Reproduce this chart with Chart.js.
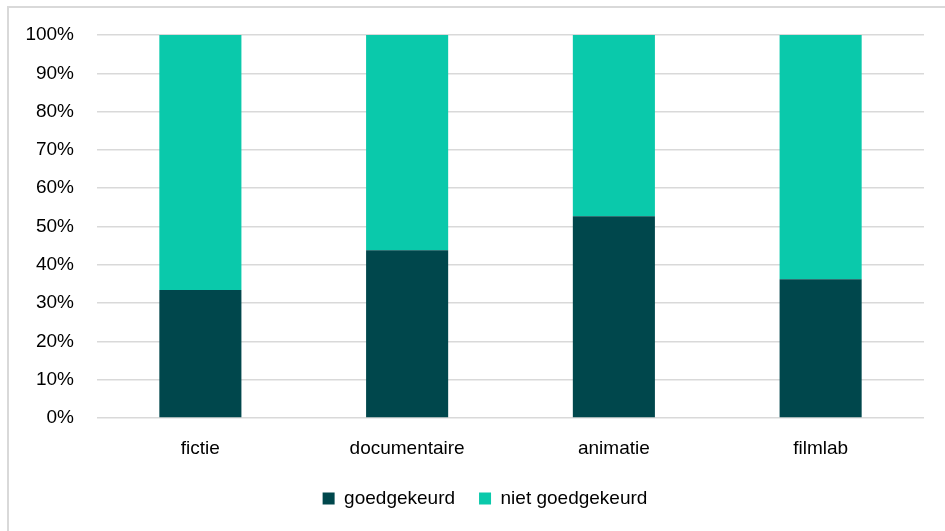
<!DOCTYPE html>
<html>
<head>
<meta charset="utf-8">
<script src="https://cdn.jsdelivr.net/npm/chart.js@4"></script>
<style>
  html, body { margin: 0; padding: 0; background: #fff; }
  #wrap { position: relative; width: 945px; height: 531px; }
  #frame { position: absolute; left: 7px; top: 6px; right: 0; bottom: 0;
           border-top: 2px solid #d9d9d9; border-left: 2px solid #d9d9d9; }
  canvas { position: absolute; left: 0; top: 0; }
</style>
</head>
<body>
<div id="wrap">
  <div id="frame"></div>
  <canvas id="c" width="945" height="531"></canvas>
</div>
<script>
/* categorieën en aandelen (%) */
const categories = ['fictie', 'documentaire', 'animatie', 'filmlab'];
const goedgekeurd = [33.4, 43.8, 52.7, 36.2];
const nietGoedgekeurd = [66.6, 56.2, 47.3, 63.8];
const yMin = 0, yMax = 100, yStep = 10;

const FONT = { family: "'Liberation Sans', Arial, sans-serif", size: 19 };

// legenda staat in het origineel iets rechts van het midden
const legendShift = {
  id: 'legendShift',
  afterLayout(chart) {
    if (chart.legend) chart.legend.left = 46;
  }
};

new Chart(document.getElementById('c'), {
  type: 'bar',
  data: {
    labels: categories,
    datasets: [
      { label: 'goedgekeurd', data: goedgekeurd, backgroundColor: '#00474c',
        barPercentage: 0.397, categoryPercentage: 1 },
      { label: 'niet goedgekeurd', data: nietGoedgekeurd, backgroundColor: '#0ac9ab',
        barPercentage: 0.397, categoryPercentage: 1 }
    ]
  },
  options: {
    responsive: false,
    animation: false,
    layout: { padding: { left: 15, right: 21, top: 35, bottom: 13 } },
    scales: {
      x: {
        stacked: true,
        grid: { display: false, drawTicks: false },
        border: { display: false },
        ticks: { color: '#000', font: FONT, padding: 19 },
        afterFit: s => { s.height = 47; }
      },
      y: {
        stacked: true,
        min: yMin, max: yMax,
        grid: { color: '#d9d9d9', lineWidth: 1.5, drawTicks: false },
        border: { display: false },
        ticks: { color: '#000', font: FONT, padding: 23, stepSize: yStep,
                 callback: v => v + '%' },
        afterFit: s => { s.width = 82; }
      }
    },
    plugins: {
      legend: {
        position: 'bottom',
        labels: { color: '#000', font: FONT, boxWidth: 12, boxHeight: 12, padding: 24 }
      },
      tooltip: { enabled: false }
    }
  },
  plugins: [legendShift]
});
</script>
</body>
</html>
